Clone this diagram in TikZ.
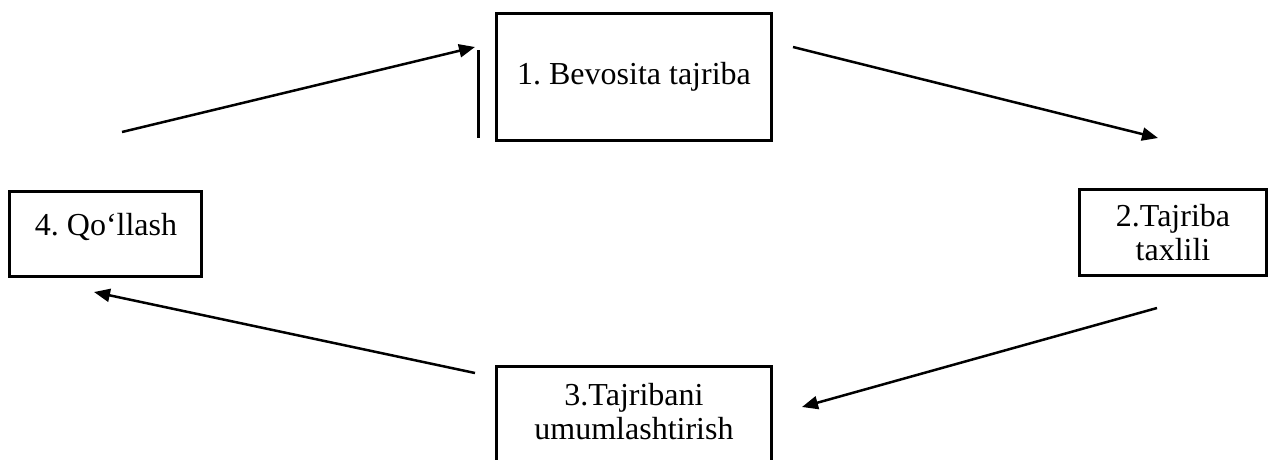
\documentclass[tikz,border=0pt]{standalone}
\usepackage{fontspec}
\setmainfont{Liberation Serif}
\usetikzlibrary{arrows.meta}
\frenchspacing
\begin{document}
\begin{tikzpicture}[x=1pt,y=-1pt,
  box/.style={draw, line width=3pt, inner sep=0pt, align=center, font=\fontsize{32}{34}\selectfont\frenchspacing},
  txt/.style={inner sep=0pt, align=center, font=\fontsize{32}{34}\selectfont\frenchspacing},
  arr/.style={line width=2.5pt, -{Triangle[length=16pt,width=13pt]}},
  bar/.style={line width=3pt}]
\clip (0,0) rectangle (1278,459);
\useasboundingbox (0,0) rectangle (1278,459);
\node[box, minimum width=275, minimum height=127] (b1) at (634,77) {1. Bevosita tajriba};
\node[box, minimum width=187, minimum height=86] (b2) at (1173,232.5) {2.Tajriba\\taxlili};
\node[box, minimum width=275, minimum height=140, anchor=north] (b3) at (634,364.5) {};
\node[txt] (t3) at (634,412) {3.Tajribani\\umumlashtirish};
\node[box, minimum width=192, minimum height=85] (b4) at (105.5,234) {};
\node[txt, anchor=base] (t4) at (106,235) {4. Qo‘llash};
\coordinate (v1) at (478,50);
\coordinate (v2) at (478,138);
\draw[bar] (v1) -- (v2);
\coordinate (a1s) at (122,132);
\coordinate (a1e) at (475,47);
\coordinate (a2s) at (793,47);
\coordinate (a2e) at (1158,138);
\coordinate (a3s) at (1157,308);
\coordinate (a3e) at (802,407);
\coordinate (a4s) at (475,373);
\coordinate (a4e) at (94,292);
\draw[arr] (a1s) -- (a1e);
\draw[arr] (a2s) -- (a2e);
\draw[arr] (a3s) -- (a3e);
\draw[arr] (a4s) -- (a4e);
\end{tikzpicture}
\end{document}
